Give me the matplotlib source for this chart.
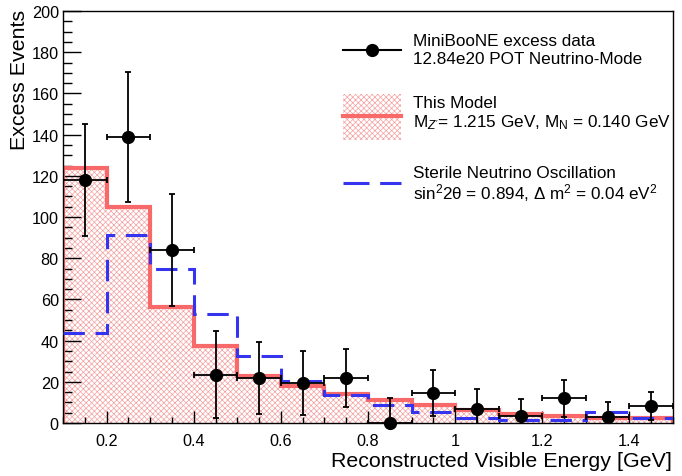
import numpy as np
import matplotlib
matplotlib.use("Agg")
import matplotlib.pyplot as plt
from matplotlib.lines import Line2D
from matplotlib.patches import Rectangle
from matplotlib.ticker import MultipleLocator, FuncFormatter

plt.rcParams['font.family'] = ['Liberation Sans', 'DejaVu Sans']
plt.rcParams['mathtext.fontset'] = 'custom'
plt.rcParams['mathtext.rm'] = 'Liberation Sans'
plt.rcParams['mathtext.it'] = 'Liberation Sans:italic'
plt.rcParams['hatch.linewidth'] = 0.5

# bins
bordas = np.round(np.arange(0.1, 1.51, 0.1), 2)
centros = np.round(bordas[:-1] + 0.05, 2)

# MiniBooNE excess data
dados = [118, 139, 84, 23.5, 22, 19.5, 22, 0, 14.5, 6.8, 3.5, 12, 3, 8.3]
erros = [27, 31.5, 27, 21, 17.5, 15.5, 14, 12, 11, 9.5, 8, 9, 7, 6.7]

# This Model
modelo = [124, 105, 56.5, 37.5, 23, 18, 14, 11, 8.5, 6.3, 4.3, 3.3, 2.3, 2.3]

# Sterile neutrino oscillation
esteril = [43.5, 91.5, 75, 53, 32.5, 20.5, 13.5, 8.5, 5.2, 2.6, 1.6, 1.6, 5.3, 2.4]

vermelho = '#f86a6a'
rosa = '#f4a0a0'
azul = '#3535f0'
hach = 'xxxxxx'

fig = plt.figure(figsize=(6.82, 4.77), dpi=100)
W, H = 682, 477
ax = fig.add_axes([63 / W, 1 - 424 / H, (673 - 63) / W, (424 - 12) / H])

# modelo: hachurado + contorno
ax.stairs(modelo, bordas, baseline=0, fill=True, facecolor='none',
          edgecolor=rosa, hatch=hach, linewidth=0, zorder=1)
ax.stairs(modelo, bordas, baseline=0, color=vermelho, linewidth=3, zorder=2)

# oscilacao esteril
ax.stairs(esteril, bordas, baseline=None, color=azul, linewidth=2.2,
          linestyle=(0, (7, 3.5)), zorder=3)

# dados
ax.errorbar(centros, dados, yerr=erros, xerr=0.05, fmt='none', ecolor='black',
            elinewidth=1.3, capsize=2.5, capthick=1.3, zorder=4)
ax.plot(centros, dados, 'o', color='black', markersize=8.5, zorder=5, clip_on=False)

ax.set_xlim(0.1, 1.5)
ax.set_ylim(0, 200)
ax.xaxis.set_major_locator(MultipleLocator(0.2))
ax.xaxis.set_minor_locator(MultipleLocator(0.05))
ax.yaxis.set_major_locator(MultipleLocator(20))
ax.yaxis.set_minor_locator(MultipleLocator(5))
ax.xaxis.set_major_formatter(FuncFormatter(lambda v, p: f'{v:g}'))
ax.tick_params(axis='both', which='both', direction='in', top=False, right=False,
               labelsize=11.7, width=1)
ax.tick_params(axis='x', which='major', length=8.5, pad=7)
ax.tick_params(axis='x', which='minor', length=4.3)
ax.tick_params(axis='y', which='major', length=13, pad=3)
ax.tick_params(axis='y', which='minor', length=6.5)
for s in ax.spines.values():
    s.set_linewidth(1)

fig.text(20 / W, 1 - 10 / H, 'Excess Events', rotation=90, ha='center', va='top',
         fontsize=15.4)
fig.text(672 / W, 1 - 462 / H, 'Reconstructed Visible Energy [GeV]', ha='right',
         va='center', fontsize=15.4)

# legenda
def fx(px):
    return px / W

def fy(py):
    return 1 - py / H

fs = 12.3
tx = fx(413)
fig.add_artist(Line2D([fx(343), fx(401)], [fy(51), fy(51)], color='black', lw=1.5))
fig.add_artist(Line2D([fx(372)], [fy(51)], marker='o', color='black', markersize=8.5))
fig.text(tx, fy(41), 'MiniBooNE excess data', va='center', fontsize=fs)
fig.text(tx, fy(60), '12.84e20 POT Neutrino-Mode', va='center', fontsize=fs)

fig.add_artist(Rectangle((fx(343), fy(141)), fx(401) - fx(343), fy(95) - fy(141),
                         facecolor='none', edgecolor=rosa, hatch=hach, lw=0))
fig.add_artist(Line2D([fx(343), fx(401)], [fy(117), fy(117)], color=vermelho, lw=3))
fig.text(tx, fy(103), 'This Model', va='center', fontsize=fs)
fig.text(tx, fy(123), r"M$_{Z'}$= 1.215 GeV, M$_{\mathrm{N}}$ = 0.140 GeV",
         va='center', fontsize=fs)

fig.add_artist(Line2D([fx(343), fx(401)], [fy(184), fy(184)], color=azul, lw=2.2,
                      linestyle=(0, (8.5, 3.5))))
fig.text(tx, fy(173), 'Sterile Neutrino Oscillation', va='center', fontsize=fs)
fig.text(tx, fy(193), r'sin$^2$2θ = 0.894, Δ m$^2$ = 0.04 eV$^2$', va='center',
         fontsize=fs)

fig.savefig('out.png', dpi=100)
